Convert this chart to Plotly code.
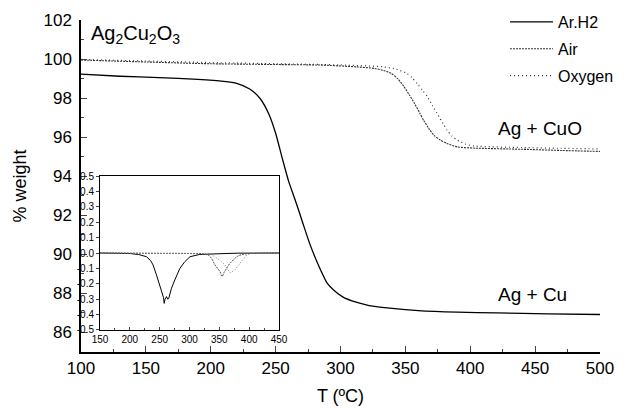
import plotly.graph_objects as go

# ---- main TGA curves ----
t_arh2 = [100, 130, 160, 190, 210, 220, 230, 238, 245, 250, 255, 260, 265, 270, 276, 282, 290, 296, 302, 312, 322, 340, 360, 390, 420, 460, 500]
w_arh2 = [99.23, 99.12, 99.05, 98.96, 98.86, 98.76, 98.47, 97.98, 97.15, 96.2, 94.95, 93.75, 92.8, 91.8, 90.6, 89.6, 88.5, 88.1, 87.81, 87.55, 87.38, 87.23, 87.12, 87.04, 87.0, 86.95, 86.92]

t_air = [100, 150, 200, 250, 286, 312, 326, 333, 339, 344, 349, 353, 357, 361, 364, 368, 372, 377, 382, 390, 403, 440, 470, 500]
w_air = [99.95, 99.85, 99.76, 99.72, 99.69, 99.6, 99.52, 99.42, 99.27, 99.0, 98.58, 98.17, 97.73, 97.25, 96.87, 96.45, 96.1, 95.85, 95.68, 95.5, 95.44, 95.38, 95.32, 95.27]

t_oxy = [100, 150, 200, 250, 300, 333, 343, 351, 355, 359, 363, 367, 371, 375, 379, 382, 386, 390, 396, 403, 440, 470, 500]
w_oxy = [99.98, 99.9, 99.82, 99.76, 99.7, 99.6, 99.48, 99.27, 99.05, 98.75, 98.42, 98.07, 97.6, 97.15, 96.7, 96.36, 96.05, 95.85, 95.65, 95.55, 95.47, 95.43, 95.4]

# ---- inset DTG curves ----
dt_arh2 = [150, 200, 215, 228, 235, 239, 244.7, 250.3, 254.2, 256.5, 257.6, 259, 261.5, 263.5, 265.3, 267.5, 269.8, 275.4, 279, 283.8, 292.2, 300.8, 317.5, 345, 380, 450]
dd_arh2 = [0, -0.003, -0.01, -0.024, -0.05, -0.078, -0.143, -0.208, -0.262, -0.29, -0.327, -0.30, -0.283, -0.30, -0.294, -0.26, -0.229, -0.175, -0.14, -0.1, -0.056, -0.024, -0.009, -0.004, -0.001, 0]

dt_air = [150, 320, 331.5, 337, 342.8, 347, 351.2, 353, 355, 358, 362.3, 367, 373.4, 380, 387.5, 400, 450]
dd_air = [0, -0.003, -0.013, -0.035, -0.078, -0.1, -0.121, -0.14, -0.153, -0.125, -0.1, -0.07, -0.045, -0.022, -0.01, -0.002, 0]

dt_oxy = [150, 335, 345.6, 352, 359.5, 364, 367.8, 372, 376.2, 381, 387.5, 392, 395.8, 405, 450]
dd_oxy = [0, -0.005, -0.034, -0.05, -0.078, -0.11, -0.13, -0.12, -0.11, -0.085, -0.056, -0.03, -0.013, -0.002, 0]

x_ticks = [100, 150, 200, 250, 300, 350, 400, 450, 500]
y_ticks = [86, 88, 90, 92, 94, 96, 98, 100, 102]
inset_x_ticks = [150, 200, 250, 300, 350, 400, 450]
inset_y_ticks = [-0.5, -0.4, -0.3, -0.2, -0.1, 0.0, 0.1, 0.2, 0.3, 0.4, 0.5]
inset_y_labels = ["-0.5", "-0.4", "-0.3", "-0.2", "-0.1", "0.0", "0.1", "0.2", "0.3", "0.4", "0.5"]

FONT = "Liberation Sans, Arial, sans-serif"

fig = go.Figure()
fig.add_trace(go.Scatter(x=t_arh2, y=w_arh2, mode="lines", name="Ar.H2", legendgroup="a",
                         line=dict(color="black", width=1.3, shape="spline", smoothing=0.6)))
fig.add_trace(go.Scatter(x=t_air, y=w_air, mode="lines", name="Air", legendgroup="b",
                         line=dict(color="#333", width=1.1, dash="2px,1px", shape="spline", smoothing=0.6)))
fig.add_trace(go.Scatter(x=t_oxy, y=w_oxy, mode="lines", name="Oxygen", legendgroup="c",
                         line=dict(color="#333", width=1.2, dash="1px,3px", shape="spline", smoothing=0.6)))

fig.add_trace(go.Scatter(x=dt_arh2, y=dd_arh2, mode="lines", showlegend=False, xaxis="x2", yaxis="y2",
                         line=dict(color="black", width=1)))
fig.add_trace(go.Scatter(x=dt_air, y=dd_air, mode="lines", showlegend=False, xaxis="x2", yaxis="y2",
                         line=dict(color="#555", width=1, dash="2px,1px")))
fig.add_trace(go.Scatter(x=dt_oxy, y=dd_oxy, mode="lines", showlegend=False, xaxis="x2", yaxis="y2",
                         line=dict(color="#777", width=1, dash="1px,2px")))

fig.update_layout(
    width=628, height=408,
    margin=dict(l=81, r=28, t=20, b=56, autoexpand=False),
    paper_bgcolor="white", plot_bgcolor="white",
    font=dict(family=FONT, color="black", size=17),
    showlegend=True,
    legend=dict(x=0.817, y=1.045, xanchor="left", yanchor="top", bgcolor="rgba(0,0,0,0)",
                font=dict(size=16), itemwidth=43, tracegroupgap=3, traceorder="grouped"),
    xaxis=dict(range=[100, 500], tickvals=x_ticks, ticks="inside", ticklen=6, tickwidth=1.3,
               showline=True, linecolor="black", linewidth=1.5, showgrid=False, zeroline=False,
               minor=dict(dtick=25, tick0=100, ticks="inside", ticklen=3, tickwidth=1.2, showgrid=False),
               title=dict(text="T (ºC)", standoff=12, font=dict(size=18)), tickfont=dict(size=17)),
    yaxis=dict(range=[85, 102], tickvals=y_ticks, ticks="inside", ticklen=6, tickwidth=1.3,
               showline=True, linecolor="black", linewidth=1.5, showgrid=False, zeroline=False,
               minor=dict(dtick=1, tick0=85, ticks="inside", ticklen=3, tickwidth=1.2, showgrid=False),
               title=dict(text="% weight", standoff=12, font=dict(size=18)), tickfont=dict(size=17),
               ticklabelstandoff=4),
    xaxis2=dict(domain=[0.0366, 0.3815], anchor="y2", range=[150, 450], tickvals=inset_x_ticks,
                ticks="inside", ticklen=3, tickwidth=1, showline=True, mirror=True,
                linecolor="black", linewidth=1, showgrid=False, zeroline=False,
                minor=dict(dtick=25, tick0=150, ticks="inside", ticklen=2, showgrid=False),
                tickfont=dict(size=10)),
    yaxis2=dict(domain=[0.0663, 0.530], anchor="x2", range=[-0.5, 0.5], tickvals=inset_y_ticks,
                ticktext=inset_y_labels, ticks="outside", ticklen=3, tickwidth=1, showline=True,
                mirror=True, linecolor="black", linewidth=1, showgrid=False, zeroline=False,
                tickfont=dict(size=10)),
    annotations=[
        dict(x=106, y=101.25, xref="x", yref="y", text="Ag<sub>2</sub>Cu<sub>2</sub>O<sub>3</sub>",
             showarrow=False, xanchor="left", yanchor="middle", font=dict(size=20)),
        dict(x=420, y=96.45, xref="x", yref="y", text="Ag + CuO",
             showarrow=False, xanchor="left", yanchor="middle", font=dict(size=19)),
        dict(x=420, y=87.95, xref="x", yref="y", text="Ag + Cu",
             showarrow=False, xanchor="left", yanchor="middle", font=dict(size=19)),
    ],
)

fig.write_html("out.html", config={"displayModeBar": False},
               post_script="document.body.style.margin='0';document.body.style.overflow='hidden';")
